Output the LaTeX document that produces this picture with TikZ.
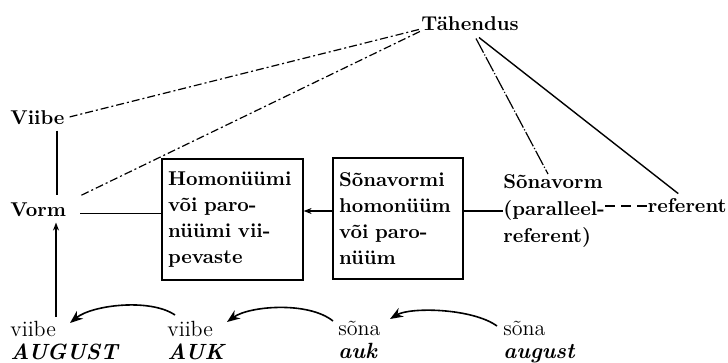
\documentclass[tikz,border=0pt]{standalone}
\usepackage{fontspec}
\usetikzlibrary{arrows.meta,calc}

\begin{document}
\begin{tikzpicture}[x=0.5pt,y=-0.5pt,
  lbl/.style={font=\bfseries, inner sep=0pt},
  word/.style={align=left, inner sep=0pt, font=\fontsize{11}{11.5}\selectfont},
  boxnode/.style={draw, line width=0.6pt, align=left, inner xsep=3pt, inner ysep=0pt,
    minimum height=60.5pt, font=\bfseries\fontsize{10}{12.9}\selectfont},
  link/.style={line width=0.7pt},
  dashdot/.style={line width=0.6pt, dash pattern=on 4pt off 1.5pt on 1pt off 1.5pt},
  curvy/.style={line width=0.8pt, -{Stealth[length=6.5pt,width=5pt]}},
  smalltip/.style={-{Stealth[length=4pt,width=3pt]}},
]
\fill[white] (0,0) rectangle (728,363);
\useasboundingbox (0,0) rectangle (728,363);

% top labels
\node[lbl, anchor=base] (T) at (470,31) {Tähendus};
\node[lbl, anchor=base west] (V) at (10,125) {Viibe};
\node[lbl, anchor=base west] (Vo) at (10,217) {Vorm};

% boxed nodes
\node[boxnode, text width=64.5pt] (B1) at (232.5,219.5) {Homonüümi\\või paro-\\nüümi vii-\\pevaste};
\node[boxnode, text width=59pt] (B2) at (398,218.5) {Sõnavormi\\homonüüm\\või paro-\\nüüm};

% right side
\node[lbl, align=left, font=\bfseries\fontsize{10}{13.5}\selectfont, anchor=north west] (S) at (503,174) {Sõnavorm\\(paralleel-\\referent)};
\node[lbl, anchor=base east] (R) at (727,213) {referent};

% bottom row
\node[word, anchor=north west] (w1) at (10,321) {viibe\\{\bfseries\itshape AUGUST}};
\node[word, anchor=north west] (w2) at (167,321) {viibe\\{\bfseries\itshape AUK}};
\node[word, anchor=north west] (w3) at (338,321) {sõna\\{\bfseries\itshape auk}};
\node[word, anchor=north west] (w4) at (503,321) {sõna\\{\bfseries\itshape august}};

% lines from Tähendus
\draw[dashdot] ($(T.south west)+(-2,-2)$) -- ($(V.east)+(4,-1)$);
\draw[dashdot] ($(T.south west)+(-1,0)$) -- ($(Vo.east)+(15,-15)$);
\draw[line width=0.6pt, dash pattern=on 8pt off 1pt on 0.6pt off 1pt] ($(T.south)+(6,7)$) -- ($(S.north west)+(45,0)$);
\draw[link] ($(T.south)+(9,6)$) -- ($(R.north)+(-9,-5)$);

% middle row connectors
\draw[link] ($(Vo.east)+(14,3)$) coordinate (vm) -- (vm -| B1.west);
\draw[link, smalltip] ($(B2.west)+(0,-7.5)$) coordinate (bb) -- (bb -| B1.east);
\draw[link] (B2.east |- S.west) -- (S.west);
\draw[line width=0.8pt, dash pattern=on 5pt off 3pt] (S.east |- R.west) -- (R.west);

% verticals at the left
\draw[link] ($(V.south west)+(47,5)$) coordinate (vb) -- ($(vb |- Vo.north)+(0,-8)$);
\draw[link, smalltip] ($(w1.north west)+(46,-4)$) coordinate (va) -- ($(va |- Vo.south)+(0,5)$);

% curved arrows along the bottom
\draw[curvy] ($(w2.north west)+(8,-6)$) .. controls +(-25,-17) and +(22,-18) .. ($(w1.north west)+(60,2)$);
\draw[curvy] ($(w3.north west)+(-5,0)$) .. controls +(-25,-20) and +(22,-16) .. ($(w2.north west)+(60,1)$);
\draw[curvy] ($(w4.north west)+(-6,5)$) .. controls +(-25,-18) and +(20,-12) .. ($(w3.north west)+(52,-2)$);
\end{tikzpicture}
\end{document}
